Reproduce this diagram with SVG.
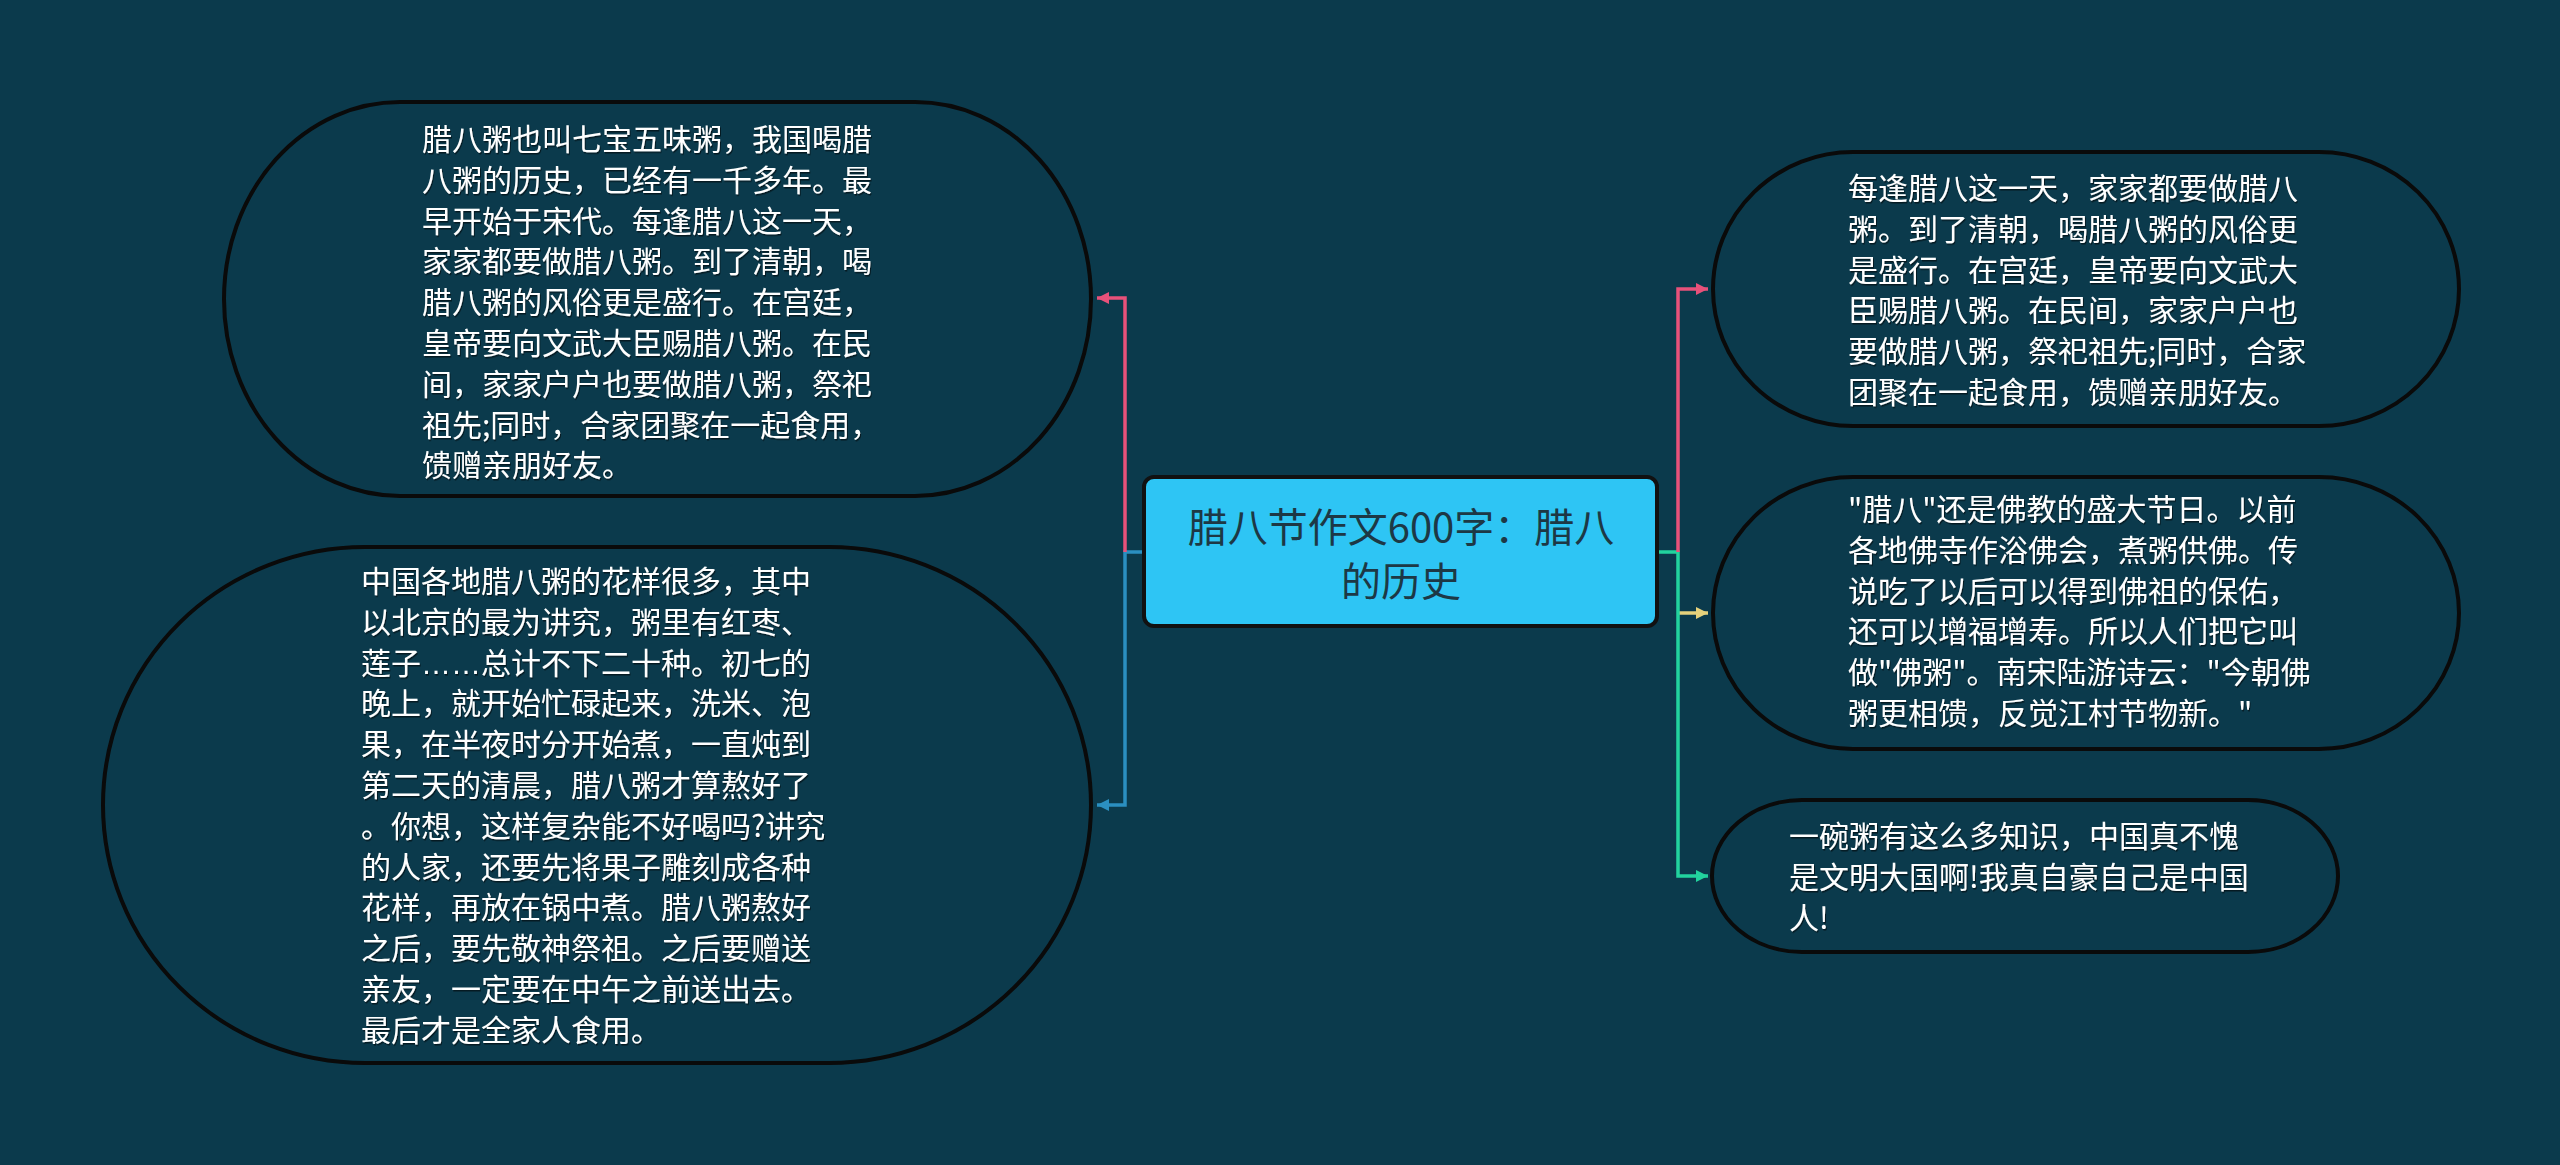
<svg xmlns="http://www.w3.org/2000/svg" width="2560" height="1165" viewBox="0 0 2560 1165">
  <style>
    .bg { fill: #0b3a4c; }
    .node { fill: #0b3a4c; stroke: #0a0a0a; stroke-width: 4; }
    .t { font-family: "Noto Sans CJK SC", "Noto Sans", sans-serif; font-size: 30px; fill: #ffffff; filter: url(#sh); }
    .ct { font-family: "Noto Sans CJK SC", "Noto Sans", sans-serif; font-size: 40px; fill: #1d3845; text-anchor: middle; }
    .c { fill: none; stroke-width: 3.5; }
    .lat { font-family: "Liberation Sans", sans-serif; }
  </style>
  <defs>
    <filter id="sh" x="-5%" y="-5%" width="110%" height="110%">
      <feDropShadow dx="1" dy="1.5" stdDeviation="0.6" flood-color="#000000" flood-opacity="0.55"/>
    </filter>
    <marker id="aPink" markerUnits="userSpaceOnUse" markerWidth="14" markerHeight="14" refX="12" refY="7" orient="auto"><path d="M0,1 L12,7 L0,13 Z" fill="#e8517a"/></marker>
    <marker id="aBlue" markerUnits="userSpaceOnUse" markerWidth="14" markerHeight="14" refX="12" refY="7" orient="auto"><path d="M0,1 L12,7 L0,13 Z" fill="#2b8fc0"/></marker>
    <marker id="aYel" markerUnits="userSpaceOnUse" markerWidth="14" markerHeight="14" refX="12" refY="7" orient="auto"><path d="M0,1 L12,7 L0,13 Z" fill="#e6d27c"/></marker>
    <marker id="aGrn" markerUnits="userSpaceOnUse" markerWidth="14" markerHeight="14" refX="12" refY="7" orient="auto"><path d="M0,1 L12,7 L0,13 Z" fill="#22d39e"/></marker>
  </defs>
  <rect class="bg" x="0" y="0" width="2560" height="1165"/>

  <g id="connectors">
    <path class="c" stroke="#2b8fc0" d="M1144,552 H1125 V805 H1097" marker-end="url(#aBlue)"/>
    <path class="c" stroke="#e8517a" d="M1125,552 V298 H1097" marker-end="url(#aPink)"/>
    <path class="c" stroke="#e6d27c" d="M1678,613 H1708" marker-end="url(#aYel)"/>
    <path class="c" stroke="#22d39e" d="M1657,552 H1678 V876 H1708" marker-end="url(#aGrn)"/>
    <path class="c" stroke="#e8517a" d="M1678,552 V289 H1708" marker-end="url(#aPink)"/>
  </g>

  <g id="center">
    <rect x="1144" y="477" width="513" height="149" rx="10" ry="10" fill="#2ec5f4" stroke="#111111" stroke-width="4"/>
    <text class="ct" x="1401" y="542">腊八节作文600字：腊八</text>
    <text class="ct" x="1401" y="596">的历史</text>
  </g>

  <g id="node-tl">
    <rect class="node" x="224" y="102" width="867" height="394" rx="176" ry="197"/>
    <text class="t">
      <tspan x="422" y="150">腊八粥也叫七宝五味粥，我国喝腊</tspan>
      <tspan x="422" y="190.8">八粥的历史，已经有一千多年。最</tspan>
      <tspan x="422" y="231.6">早开始于宋代。每逢腊八这一天，</tspan>
      <tspan x="422" y="272.4">家家都要做腊八粥。到了清朝，喝</tspan>
      <tspan x="422" y="313.2">腊八粥的风俗更是盛行。在宫廷，</tspan>
      <tspan x="422" y="354">皇帝要向文武大臣赐腊八粥。在民</tspan>
      <tspan x="422" y="394.8">间，家家户户也要做腊八粥，祭祀</tspan>
      <tspan x="422" y="435.6">祖先;同时，合家团聚在一起食用，</tspan>
      <tspan x="422" y="476.4">馈赠亲朋好友。</tspan>
    </text>
  </g>

  <g id="node-bl">
    <rect class="node" x="103" y="547" width="988" height="516" rx="262" ry="258"/>
    <text class="t">
      <tspan x="361" y="592">中国各地腊八粥的花样很多，其中</tspan>
      <tspan x="361" y="632.8">以北京的最为讲究，粥里有红枣、</tspan>
      <tspan x="361" y="673.6">莲子<tspan class="lat">……</tspan>总计不下二十种。初七的</tspan>
      <tspan x="361" y="714.4">晚上，就开始忙碌起来，洗米、泡</tspan>
      <tspan x="361" y="755.2">果，在半夜时分开始煮，一直炖到</tspan>
      <tspan x="361" y="796">第二天的清晨，腊八粥才算熬好了</tspan>
      <tspan x="361" y="836.8">。你想，这样复杂能不好喝吗?讲究</tspan>
      <tspan x="361" y="877.6">的人家，还要先将果子雕刻成各种</tspan>
      <tspan x="361" y="918.4">花样，再放在锅中煮。腊八粥熬好</tspan>
      <tspan x="361" y="959.2">之后，要先敬神祭祖。之后要赠送</tspan>
      <tspan x="361" y="1000">亲友，一定要在中午之前送出去。</tspan>
      <tspan x="361" y="1040.8">最后才是全家人食用。</tspan>
    </text>
  </g>

  <g id="node-tr">
    <rect class="node" x="1713" y="152" width="746" height="274" rx="140" ry="137"/>
    <text class="t">
      <tspan x="1848" y="199">每逢腊八这一天，家家都要做腊八</tspan>
      <tspan x="1848" y="239.8">粥。到了清朝，喝腊八粥的风俗更</tspan>
      <tspan x="1848" y="280.6">是盛行。在宫廷，皇帝要向文武大</tspan>
      <tspan x="1848" y="321.4">臣赐腊八粥。在民间，家家户户也</tspan>
      <tspan x="1848" y="362.2">要做腊八粥，祭祀祖先;同时，合家</tspan>
      <tspan x="1848" y="403">团聚在一起食用，馈赠亲朋好友。</tspan>
    </text>
  </g>

  <g id="node-mr">
    <rect class="node" x="1713" y="477" width="746" height="272" rx="140" ry="136"/>
    <text class="t">
      <tspan x="1848" y="520">"腊八"还是佛教的盛大节日。以前</tspan>
      <tspan x="1848" y="560.8">各地佛寺作浴佛会，煮粥供佛。传</tspan>
      <tspan x="1848" y="601.6">说吃了以后可以得到佛祖的保佑，</tspan>
      <tspan x="1848" y="642.4">还可以增福增寿。所以人们把它叫</tspan>
      <tspan x="1848" y="683.2">做"佛粥"。南宋陆游诗云："今朝佛</tspan>
      <tspan x="1848" y="724">粥更相馈，反觉江村节物新。"</tspan>
    </text>
  </g>

  <g id="node-br">
    <rect class="node" x="1712" y="800" width="626" height="152" rx="90" ry="76"/>
    <text class="t">
      <tspan x="1789" y="847">一碗粥有这么多知识，中国真不愧</tspan>
      <tspan x="1789" y="887.8">是文明大国啊!我真自豪自己是中国</tspan>
      <tspan x="1789" y="928.6">人!</tspan>
    </text>
  </g>
</svg>
